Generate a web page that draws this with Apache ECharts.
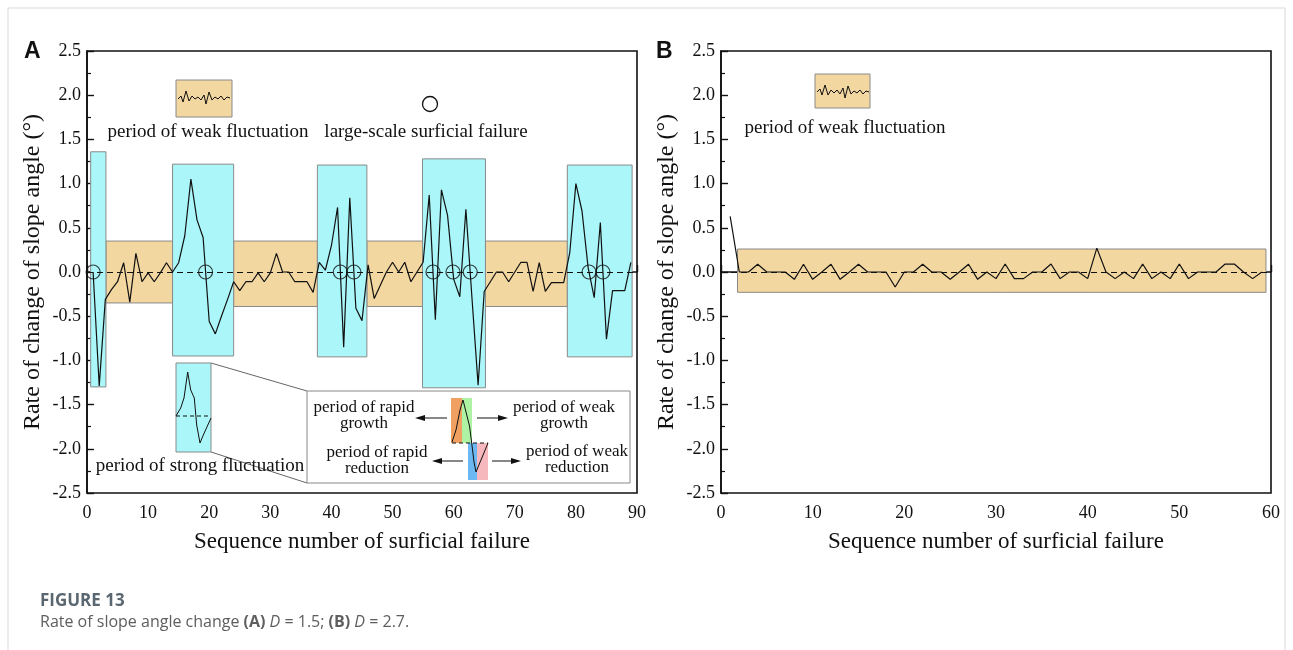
<!DOCTYPE html>
<html lang="en">
<head>
<meta charset="UTF-8">
<script src="https://cdn.jsdelivr.net/npm/echarts@6/dist/echarts.min.js"></script>
<style>
  html, body { margin: 0; padding: 0; background: #fff; }
  #chart { width: 1293px; height: 650px; }
</style>
</head>
<body>
<div id="chart"></div>
<script>
// ---- data ----
// panel A, D = 1.5
var seqA = [];
for (var i = 1; i <= 89; i++) seqA.push(i);
var rateA = [0, -1.29, -0.31, -0.2, -0.11, 0.105, -0.34, 0.21, -0.11, -0.01,
  -0.11, -0.01, 0.105, 0, 0.105, 0.41, 1.05, 0.59, 0.39, -0.56,
  -0.70, -0.50, -0.31, -0.11, -0.21, -0.11, -0.11, -0.01, -0.11, -0.01,
  0.21, 0, 0, -0.11, -0.11, -0.11, -0.23, 0.11, 0.02, 0.30,
  0.73, -0.85, 0.84, -0.41, -0.55, 0.08, -0.30, -0.15, 0, 0.11,
  0, 0.11, -0.11, 0, 0.11, 0.87, -0.54, 0.93, 0.64, -0.08,
  -0.28, 0.71, -0.30, -1.28, -0.22, -0.11, 0, 0, -0.11, 0,
  0.11, 0.11, -0.22, 0.105, -0.22, -0.12, -0.12, -0.12, 0.22, 1.0,
  0.69, 0.05, -0.29, 0.56, -0.76, -0.21, -0.21, -0.21, 0.11];
// large-scale surficial failures (where the curve crosses zero)
var failureA = [1, 19.4, 41.45, 43.67, 56.62, 59.89, 62.71, 82.15, 84.42];
// periods: [xStart, xEnd, yLow, yHigh]
var weakA = [[3.1, 14.0, -0.35, 0.35], [24.0, 37.7, -0.39, 0.35], [45.8, 54.9, -0.39, 0.35], [65.2, 78.6, -0.39, 0.35]];
var strongA = [[0.6, 3.1, -1.30, 1.36], [14.0, 24.0, -0.95, 1.22], [37.7, 45.8, -0.96, 1.21], [54.9, 65.2, -1.31, 1.28], [78.6, 89.2, -0.96, 1.21]];

// panel B, D = 2.7
var seqB = [];
for (var j = 1; j <= 59; j++) seqB.push(j);
var rateB = [0.63, 0, 0, 0.087, 0, 0, 0, -0.083, 0.087, -0.083,
  0, 0.087, -0.083, 0, 0.087, 0, 0, 0, -0.17, 0,
  0, 0.087, 0, 0, -0.083, 0, 0.087, -0.083, 0, -0.075,
  0.09, -0.075, -0.075, 0, 0, 0.09, -0.075, 0, 0, -0.075,
  0.27, 0, -0.075, 0, -0.075, 0.09, -0.075, 0, -0.075, 0.09,
  -0.075, 0, 0, 0, 0.09, 0.09, 0, -0.075, 0];
var weakB = [[1.8, 59.45, -0.23, 0.26]];

var yTicks = [-2.5, 2.5];

function pairs(xs, ys) { return xs.map(function (x, k) { return [x, ys[k]]; }); }

var serif = 'Liberation Serif';
var tan = '#f3d7a1', cyan = '#abf6f9', edge = '#8a8a8a';

function boxSeries(boxes, fill, xi, yi) {
  return {
    type: 'custom', xAxisIndex: xi, yAxisIndex: yi, z: 1, silent: true,
    encode: { x: [0, 1], y: [2, 3] },
    data: boxes,
    renderItem: function (params, api) {
      var a = api.coord([api.value(0), api.value(3)]);
      var b = api.coord([api.value(1), api.value(2)]);
      return { type: 'rect', shape: { x: a[0], y: a[1], width: b[0] - a[0], height: b[1] - a[1] },
        style: { fill: fill, stroke: edge, lineWidth: 1 } };
    }
  };
}

function xAx(idx, max) {
  return {
    gridIndex: idx, type: 'value', min: 0, max: max, interval: 10,
    name: 'Sequence number of surficial failure', nameLocation: 'middle', nameGap: 37,
    nameTextStyle: { fontFamily: serif, fontSize: 23, color: '#111' },
    axisLine: { lineStyle: { color: '#111', width: 1.6 } },
    axisTick: { inside: true, length: 7, lineStyle: { color: '#111', width: 1.4 } },
    minorTick: { show: true, splitNumber: 2, length: 4, lineStyle: { color: '#111', width: 1.2 } },
    axisLabel: { fontFamily: serif, fontSize: 18, color: '#111', margin: 11 },
    splitLine: { show: false }
  };
}
function yAx(idx) {
  return {
    gridIndex: idx, type: 'value', min: yTicks[0], max: yTicks[1], interval: 0.5,
    name: 'Rate of change of slope angle (\u00B0)', nameLocation: 'middle', nameGap: 42,
    nameTextStyle: { fontFamily: serif, fontSize: 24, color: '#111' },
    axisLine: { lineStyle: { color: '#111', width: 1.6 } },
    axisTick: { inside: true, length: 7, lineStyle: { color: '#111', width: 1.4 } },
    minorTick: { show: true, splitNumber: 2, length: 4, lineStyle: { color: '#111', width: 1.2 } },
    axisLabel: { fontFamily: serif, fontSize: 18, color: '#111', margin: 6, formatter: function (v) { return v.toFixed(1); } },
    splitLine: { show: false }
  };
}

var zeroLine = {
  silent: true, symbol: 'none', label: { show: false },
  lineStyle: { color: '#111', type: [6, 4], width: 1 },
  data: [{ yAxis: 0 }]
};

function txt(x, y, s, size, z) {
  return { type: 'text', x: x, y: y, z: z || 100,
    style: { text: s, fontFamily: serif, fontSize: size, fill: '#111', align: 'center', verticalAlign: 'middle' } };
}
function arrow(x1, x2, y) {
  var dir = x2 > x1 ? 1 : -1;
  return [
    { type: 'line', z: 104, shape: { x1: x1, y1: y, x2: x2 - dir * 8, y2: y }, style: { stroke: '#111', lineWidth: 1 } },
    { type: 'polygon', z: 104, shape: { points: [[x2, y], [x2 - dir * 10, y - 3], [x2 - dir * 10, y + 3]] }, style: { fill: '#111' } }
  ];
}

var graphics = [
  // figure frame
  { type: 'rect', z: 0, shape: { x: 8, y: 8, width: 1277, height: 660 }, style: { fill: 'none', stroke: '#d9d9d9', lineWidth: 1 } },
  { type: 'text', z: 100, x: 24, y: 52, style: { text: 'A', fontFamily: 'Liberation Sans', fontWeight: 'bold', fontSize: 23, fill: '#111', verticalAlign: 'middle' } },
  { type: 'text', z: 100, x: 656, y: 52, style: { text: 'B', fontFamily: 'Liberation Sans', fontWeight: 'bold', fontSize: 23, fill: '#111', verticalAlign: 'middle' } },
  // caption
  { type: 'text', z: 100, x: 40, y: 601, style: { text: 'FIGURE 13', fontFamily: 'Open Sans', fontWeight: 'bold', fontSize: 17, fill: '#5b6770', verticalAlign: 'middle' } },
  { type: 'text', z: 100, x: 40, y: 622, style: {
      text: 'Rate of slope angle change {b|(A)} {i|D} = 1.5; {b|(B)} {i|D} = 2.7.',
      fontFamily: 'Open Sans', fontSize: 16, fill: '#5e5e5e', verticalAlign: 'middle',
      rich: { b: { fontFamily: 'Open Sans', fontWeight: 'bold', fontSize: 16, fill: '#5e5e5e' },
              i: { fontFamily: 'Open Sans', fontStyle: 'italic', fontSize: 16, fill: '#5e5e5e' } } } },

  // panel A legend: weak fluctuation
  { type: 'rect', z: 100, shape: { x: 176, y: 80, width: 56, height: 37 }, style: { fill: tan, stroke: edge, lineWidth: 1 } },
  { type: 'polyline', z: 101, shape: { points: [[178, 99], [181, 96], [183, 102], [186, 91], [189, 101], [192, 96], [195, 99], [198, 97], [201, 100], [204, 95], [206, 104], [209, 92], [212, 100], [215, 97], [218, 99], [221, 96], [224, 100], [227, 97], [230, 98]] }, style: { stroke: '#111', fill: 'none', lineWidth: 1 } },
  txt(208, 132, 'period of weak fluctuation', 19),
  // failure legend
  { type: 'circle', z: 100, shape: { cx: 430, cy: 104, r: 7.5 }, style: { fill: '#fff', stroke: '#111', lineWidth: 1.3 } },
  txt(426, 132, 'large-scale surficial failure', 19),

  // strong fluctuation legend + zoom connectors
  { type: 'line', z: 99, shape: { x1: 211, y1: 363, x2: 307, y2: 391 }, style: { stroke: '#666', lineWidth: 1 } },
  { type: 'line', z: 99, shape: { x1: 211, y1: 452, x2: 307, y2: 483 }, style: { stroke: '#666', lineWidth: 1 } },
  { type: 'rect', z: 100, shape: { x: 176, y: 363, width: 35, height: 89 }, style: { fill: cyan, stroke: edge, lineWidth: 1 } },
  { type: 'line', z: 101, shape: { x1: 176, y1: 416, x2: 211, y2: 416 }, style: { stroke: '#111', lineWidth: 1, lineDash: [4, 3] } },
  { type: 'polyline', z: 101, shape: { points: [[176, 416], [180.7, 408], [184, 398], [187.7, 372], [190.7, 390], [194.3, 398], [196.7, 425], [200, 443], [203.3, 435], [211, 418]] }, style: { stroke: '#111', fill: 'none', lineWidth: 1 } },
  txt(200, 466, 'period of strong fluctuation', 19),

  // inset schematic
  { type: 'rect', z: 102, shape: { x: 307, y: 391, width: 323, height: 92 }, style: { fill: '#fff', stroke: '#888', lineWidth: 1 } },
  { type: 'rect', z: 103, shape: { x: 451, y: 398, width: 11, height: 45 }, style: { fill: '#f0a162' } },
  { type: 'rect', z: 103, shape: { x: 462, y: 398, width: 10, height: 45 }, style: { fill: '#aef2a4' } },
  { type: 'rect', z: 103, shape: { x: 468, y: 443, width: 9, height: 37 }, style: { fill: '#6cb8f2' } },
  { type: 'rect', z: 103, shape: { x: 477, y: 443, width: 11, height: 37 }, style: { fill: '#f6b8bc' } },
  { type: 'line', z: 104, shape: { x1: 452, y1: 443, x2: 488, y2: 443 }, style: { stroke: '#111', lineWidth: 1, lineDash: [4, 3] } },
  { type: 'polyline', z: 104, shape: { points: [[452, 442], [456, 430], [460, 410], [463, 400], [466, 412], [469.5, 426], [471.7, 443], [474, 462], [476, 472], [488, 443]] }, style: { stroke: '#111', fill: 'none', lineWidth: 1 } },
  txt(364, 408, 'period of rapid', 17, 104),
  txt(364, 424, 'growth', 17, 104),
  txt(564, 408, 'period of weak', 17, 104),
  txt(564, 424, 'growth', 17, 104),
  txt(377, 453, 'period of rapid', 17, 104),
  txt(377, 469, 'reduction', 17, 104),
  txt(577, 452, 'period of weak', 17, 104),
  txt(577, 468, 'reduction', 17, 104),

  // panel B legend
  { type: 'rect', z: 100, shape: { x: 815, y: 74, width: 55, height: 34 }, style: { fill: tan, stroke: edge, lineWidth: 1 } },
  { type: 'polyline', z: 101, shape: { points: [[817, 92], [820, 89], [822, 95], [825, 85], [828, 95], [831, 90], [834, 93], [837, 90], [840, 94], [843, 88], [845, 98], [848, 86], [851, 94], [854, 91], [857, 93], [860, 90], [863, 94], [866, 91], [869, 92]] }, style: { stroke: '#111', fill: 'none', lineWidth: 1 } },
  txt(845, 128, 'period of weak fluctuation', 19)
];
graphics = graphics.concat(arrow(447, 415, 418), arrow(477, 508, 418), arrow(463, 432, 461), arrow(492, 521, 461));

var chart = echarts.init(document.getElementById('chart'), null, { renderer: 'canvas' });
chart.setOption({
  backgroundColor: '#fff',
  animation: false,
  grid: [
    { left: 87, top: 51, width: 550, height: 442, show: true, borderColor: '#111', borderWidth: 1.6, backgroundColor: 'transparent' },
    { left: 721, top: 51, width: 550, height: 442, show: true, borderColor: '#111', borderWidth: 1.6, backgroundColor: 'transparent' }
  ],
  xAxis: [xAx(0, 90), xAx(1, 60)],
  yAxis: [yAx(0), yAx(1)],
  series: [
    boxSeries(weakA, tan, 0, 0),
    boxSeries(strongA, cyan, 0, 0),
    boxSeries(weakB, tan, 1, 1),
    { type: 'line', xAxisIndex: 0, yAxisIndex: 0, z: 3, data: pairs(seqA, rateA), symbol: 'none',
      lineStyle: { color: '#111', width: 1.2 }, markLine: zeroLine },
    { type: 'scatter', xAxisIndex: 0, yAxisIndex: 0, z: 4, symbol: 'circle', symbolSize: 14,
      data: failureA.map(function (x) { return [x, 0]; }),
      itemStyle: { color: 'rgba(0,0,0,0)', borderColor: '#111', borderWidth: 1.2 } },
    { type: 'line', xAxisIndex: 1, yAxisIndex: 1, z: 3, data: pairs(seqB, rateB), symbol: 'none',
      lineStyle: { color: '#111', width: 1.2 }, markLine: zeroLine }
  ],
  graphic: graphics
});
</script>
</body>
</html>
